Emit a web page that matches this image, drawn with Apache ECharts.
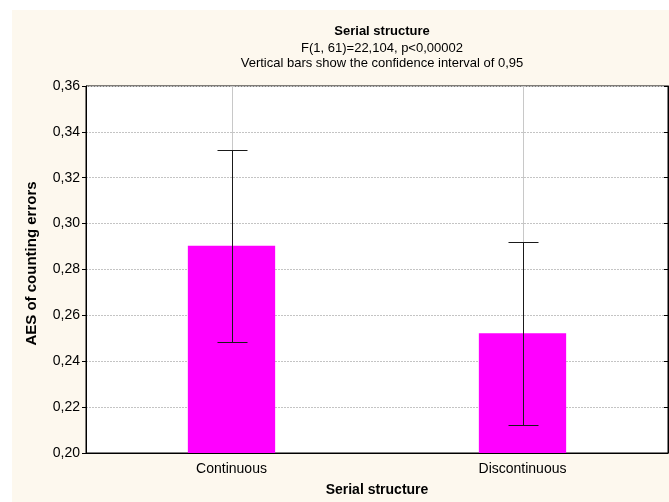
<!DOCTYPE html>
<html>
<head>
<meta charset="utf-8">
<script src="https://cdn.jsdelivr.net/npm/echarts@6/dist/echarts.min.js"></script>
<style>
  html, body { margin: 0; padding: 0; background: #ffffff; }
  #chart { width: 669px; height: 502px; }
</style>
</head>
<body>
<div id="chart"></div>
<script>
// Group means of the absolute error score with their 95% confidence limits
const categories = ['Continuous', 'Discontinuous'];
const means = [0.2903, 0.2522];
const ciLower = [0.2484, 0.2124];
const ciUpper = [0.3321, 0.2919];

// Value axis range and step
const yMin = 0.20;
const yMax = 0.36;
const yStep = 0.02;

const FONT = '"Liberation Sans", Arial, sans-serif';
const comma = v => v.toFixed(2).replace('.', ',');

const chart = echarts.init(document.getElementById('chart'), null, { renderer: 'canvas' });

const errorData = categories.map((c, i) => [i, ciLower[i], ciUpper[i]]);
const gridLineData = categories.map((c, i) => [i, yMin, yMax]);

chart.setOption({
  animation: false,
  backgroundColor: '#ffffff',
  graphic: [{
    type: 'rect', z: -10, silent: true,
    shape: { x: 12, y: 10, width: 669, height: 502 },
    style: { fill: '#fdf8ee' }
  }],
  title: {
    text: 'Serial structure',
    subtext: 'F(1, 61)=22,104, p<0,00002\nVertical bars show the confidence interval of 0,95',
    left: 377,
    top: 20,
    textAlign: 'center',
    itemGap: 3,
    textStyle: { fontFamily: FONT, fontSize: 13, fontWeight: 'bold', color: '#000' },
    subtextStyle: { fontFamily: FONT, fontSize: 13, color: '#000', lineHeight: 15 }
  },
  grid: {
    left: 86, right: 1, top: 86, bottom: 48,
    show: true, backgroundColor: '#ffffff', borderColor: '#000', borderWidth: 1
  },
  xAxis: {
    type: 'category',
    data: categories,
    name: 'Serial structure',
    nameLocation: 'middle',
    nameGap: 30,
    nameTextStyle: { fontFamily: FONT, fontSize: 14, fontWeight: 'bold', color: '#000' },
    axisLine: { show: true, lineStyle: { color: '#000', width: 1 } },
    axisTick: { show: true, inside: true, alignWithLabel: true, length: 3, lineStyle: { color: '#000' } },
    axisLabel: { fontFamily: FONT, fontSize: 14, color: '#000', margin: 9 },
    splitLine: { show: false }
  },
  yAxis: [{
    type: 'value',
    min: yMin, max: yMax, interval: yStep,
    name: 'AES of counting errors',
    nameLocation: 'middle',
    nameGap: 47,
    nameTextStyle: { fontFamily: FONT, fontSize: 15, fontWeight: 'bold', color: '#000', padding: [0, 0, 0, 12] },
    axisLine: { show: true, lineStyle: { color: '#000', width: 1 } },
    axisTick: { show: true, inside: false, length: 4, lineStyle: { color: '#000' } },
    axisLabel: { fontFamily: FONT, fontSize: 14, color: '#000', margin: 6, formatter: comma },
    splitLine: { show: true, lineStyle: { color: '#c4c4c4', width: 1, type: [2, 1] } }
  }, {
    type: 'value',
    position: 'right',
    min: yMin, max: yMax, interval: yStep,
    axisLine: { show: true, lineStyle: { color: '#000', width: 1 } },
    axisTick: { show: true, inside: true, length: 4, lineStyle: { color: '#000' } },
    axisLabel: { show: false },
    splitLine: { show: false }
  }],
  series: [{
    // vertical grid lines through each category centre
    type: 'custom',
    z: 1,
    silent: true,
    data: gridLineData,
    renderItem: (params, api) => {
      const a = api.coord([api.value(0), api.value(1)]);
      const b = api.coord([api.value(0), api.value(2)]);
      const x = Math.round(a[0]) + 0.5;
      return {
        type: 'line',
        shape: { x1: x, y1: a[1], x2: x, y2: b[1] },
        style: { stroke: '#c8c8c8', lineWidth: 1 }
      };
    }
  }, {
    type: 'bar',
    z: 2,
    data: means,
    barWidth: '30%',
    itemStyle: { color: '#ff00ff' }
  }, {
    // confidence interval whiskers
    type: 'custom',
    z: 3,
    silent: true,
    data: errorData,
    renderItem: (params, api) => {
      const lo = api.coord([api.value(0), api.value(1)]);
      const hi = api.coord([api.value(0), api.value(2)]);
      const x = Math.round(lo[0]) + 0.5;
      const yl = Math.round(lo[1]) + 0.5;
      const yh = Math.round(hi[1]) + 0.5;
      const cap = 15;
      const st = { stroke: '#1a1a1a', lineWidth: 1 };
      return {
        type: 'group',
        children: [
          { type: 'line', shape: { x1: x, y1: yh, x2: x, y2: yl }, style: st },
          { type: 'line', shape: { x1: x - cap, y1: yh, x2: x + cap, y2: yh }, style: st },
          { type: 'line', shape: { x1: x - cap, y1: yl, x2: x + cap, y2: yl }, style: st }
        ]
      };
    }
  }]
});
</script>
</body>
</html>
